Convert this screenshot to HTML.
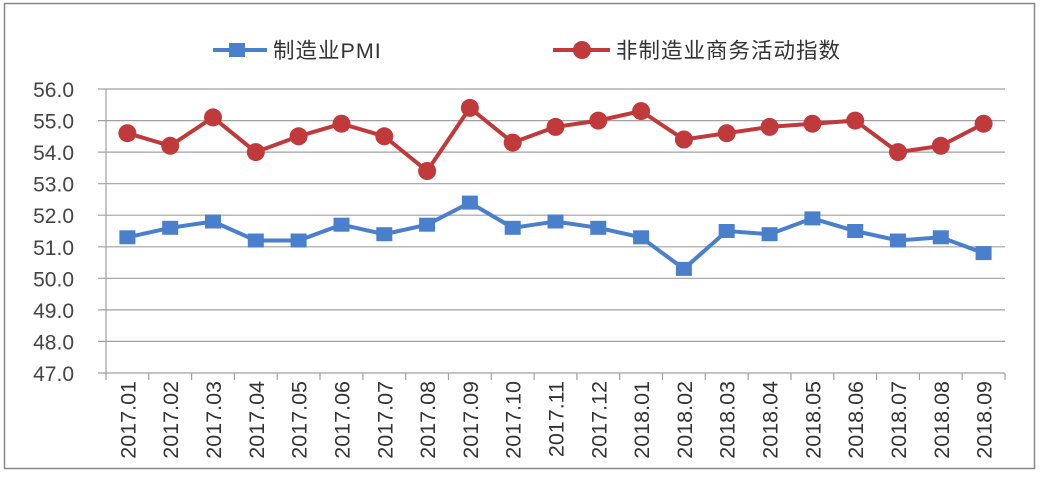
<!DOCTYPE html><html><head><meta charset="utf-8"><style>body{margin:0;background:#fff}</style></head><body>
<svg width="1040" height="476" xmlns="http://www.w3.org/2000/svg" font-family="Liberation Sans, Noto Sans CJK SC, sans-serif">
<rect x="0" y="0" width="1040" height="476" fill="#fff"/>
<rect x="4.5" y="3.5" width="1030" height="465" fill="none" stroke="#888" stroke-width="1.5"/>
<g stroke="#a0a0a0" stroke-width="1.2">
<line x1="98" x2="1005" y1="89" y2="89"/><line x1="98" x2="1005" y1="120.6" y2="120.6"/><line x1="98" x2="1005" y1="152.1" y2="152.1"/><line x1="98" x2="1005" y1="183.7" y2="183.7"/><line x1="98" x2="1005" y1="215.2" y2="215.2"/><line x1="98" x2="1005" y1="246.8" y2="246.8"/><line x1="98" x2="1005" y1="278.3" y2="278.3"/><line x1="98" x2="1005" y1="309.9" y2="309.9"/><line x1="98" x2="1005" y1="341.4" y2="341.4"/><line x1="98" x2="1005" y1="373" y2="373"/>
<line x1="106" x2="106" y1="89" y2="380"/>
<path d="M148.8,373v7M191.6,373v7M234.4,373v7M277.2,373v7M320,373v7M362.9,373v7M405.7,373v7M448.5,373v7M491.3,373v7M534.1,373v7M576.9,373v7M619.7,373v7M662.5,373v7M705.3,373v7M748.1,373v7M791,373v7M833.8,373v7M876.6,373v7M919.4,373v7M962.2,373v7M1005,373v7"/>
</g>
<g font-size="21" fill="#444" text-anchor="end">
<text x="74" y="97">56.0</text><text x="74" y="128.6">55.0</text><text x="74" y="160.1">54.0</text><text x="74" y="191.7">53.0</text><text x="74" y="223.2">52.0</text><text x="74" y="254.8">51.0</text><text x="74" y="286.3">50.0</text><text x="74" y="317.9">49.0</text><text x="74" y="349.4">48.0</text><text x="74" y="381">47.0</text>
</g>
<g font-size="21.5" fill="#333" text-anchor="end">
<text transform="translate(135.4,381) rotate(-90)">2017.01</text>
<text transform="translate(178.2,381) rotate(-90)">2017.02</text>
<text transform="translate(221,381) rotate(-90)">2017.03</text>
<text transform="translate(263.8,381) rotate(-90)">2017.04</text>
<text transform="translate(306.6,381) rotate(-90)">2017.05</text>
<text transform="translate(349.5,381) rotate(-90)">2017.06</text>
<text transform="translate(392.3,381) rotate(-90)">2017.07</text>
<text transform="translate(435.1,381) rotate(-90)">2017.08</text>
<text transform="translate(477.9,381) rotate(-90)">2017.09</text>
<text transform="translate(520.7,381) rotate(-90)">2017.10</text>
<text transform="translate(563.5,381) rotate(-90)">2017.11</text>
<text transform="translate(606.3,381) rotate(-90)">2017.12</text>
<text transform="translate(649.1,381) rotate(-90)">2018.01</text>
<text transform="translate(691.9,381) rotate(-90)">2018.02</text>
<text transform="translate(734.7,381) rotate(-90)">2018.03</text>
<text transform="translate(777.6,381) rotate(-90)">2018.04</text>
<text transform="translate(820.4,381) rotate(-90)">2018.05</text>
<text transform="translate(863.2,381) rotate(-90)">2018.06</text>
<text transform="translate(906,381) rotate(-90)">2018.07</text>
<text transform="translate(948.8,381) rotate(-90)">2018.08</text>
<text transform="translate(991.6,381) rotate(-90)">2018.09</text>
</g>
<polyline fill="none" stroke="#c0393b" stroke-width="4" points="127.4,133.2 170.2,145.8 213,117.4 255.8,152.1 298.6,136.3 341.5,123.7 384.3,136.3 427.1,171 469.9,107.9 512.7,142.6 555.5,126.9 598.3,120.6 641.1,111.1 683.9,139.5 726.7,133.2 769.6,126.9 812.4,123.7 855.2,120.6 898,152.1 940.8,145.8 983.6,123.7"/>
<polyline fill="none" stroke="#4a7fcb" stroke-width="4" points="127.4,237.3 170.2,227.8 213,221.5 255.8,240.5 298.6,240.5 341.5,224.7 384.3,234.2 427.1,224.7 469.9,202.6 512.7,227.8 555.5,221.5 598.3,227.8 641.1,237.3 683.9,268.9 726.7,231 769.6,234.2 812.4,218.4 855.2,231 898,240.5 940.8,237.3 983.6,253.1"/>
<g fill="#c0393b">
<circle cx="127.4" cy="133.2" r="9"/><circle cx="170.2" cy="145.8" r="9"/><circle cx="213" cy="117.4" r="9"/><circle cx="255.8" cy="152.1" r="9"/><circle cx="298.6" cy="136.3" r="9"/><circle cx="341.5" cy="123.7" r="9"/><circle cx="384.3" cy="136.3" r="9"/><circle cx="427.1" cy="171" r="9"/><circle cx="469.9" cy="107.9" r="9"/><circle cx="512.7" cy="142.6" r="9"/><circle cx="555.5" cy="126.9" r="9"/><circle cx="598.3" cy="120.6" r="9"/><circle cx="641.1" cy="111.1" r="9"/><circle cx="683.9" cy="139.5" r="9"/><circle cx="726.7" cy="133.2" r="9"/><circle cx="769.6" cy="126.9" r="9"/><circle cx="812.4" cy="123.7" r="9"/><circle cx="855.2" cy="120.6" r="9"/><circle cx="898" cy="152.1" r="9"/><circle cx="940.8" cy="145.8" r="9"/><circle cx="983.6" cy="123.7" r="9"/>
</g>
<g fill="#4a7fcb">
<rect x="119.4" y="230.3" width="16" height="14"/><rect x="162.2" y="220.8" width="16" height="14"/><rect x="205" y="214.5" width="16" height="14"/><rect x="247.8" y="233.5" width="16" height="14"/><rect x="290.6" y="233.5" width="16" height="14"/><rect x="333.5" y="217.7" width="16" height="14"/><rect x="376.3" y="227.2" width="16" height="14"/><rect x="419.1" y="217.7" width="16" height="14"/><rect x="461.9" y="195.6" width="16" height="14"/><rect x="504.7" y="220.8" width="16" height="14"/><rect x="547.5" y="214.5" width="16" height="14"/><rect x="590.3" y="220.8" width="16" height="14"/><rect x="633.1" y="230.3" width="16" height="14"/><rect x="675.9" y="261.9" width="16" height="14"/><rect x="718.7" y="224" width="16" height="14"/><rect x="761.6" y="227.2" width="16" height="14"/><rect x="804.4" y="211.4" width="16" height="14"/><rect x="847.2" y="224" width="16" height="14"/><rect x="890" y="233.5" width="16" height="14"/><rect x="932.8" y="230.3" width="16" height="14"/><rect x="975.6" y="246.1" width="16" height="14"/>
</g>
<line x1="213" x2="267" y1="50" y2="50" stroke="#4a7fcb" stroke-width="4"/><rect x="229" y="43" width="16" height="14" fill="#4a7fcb"/>
<text x="273" y="58" font-size="21.5" fill="#333" letter-spacing="1">制造业PMI</text>
<line x1="553" x2="610" y1="50" y2="50" stroke="#c0393b" stroke-width="4"/><circle cx="582" cy="50" r="9" fill="#c0393b"/>
<text x="616" y="58" font-size="21.5" fill="#333" letter-spacing="1">非制造业商务活动指数</text>
</svg></body></html>
